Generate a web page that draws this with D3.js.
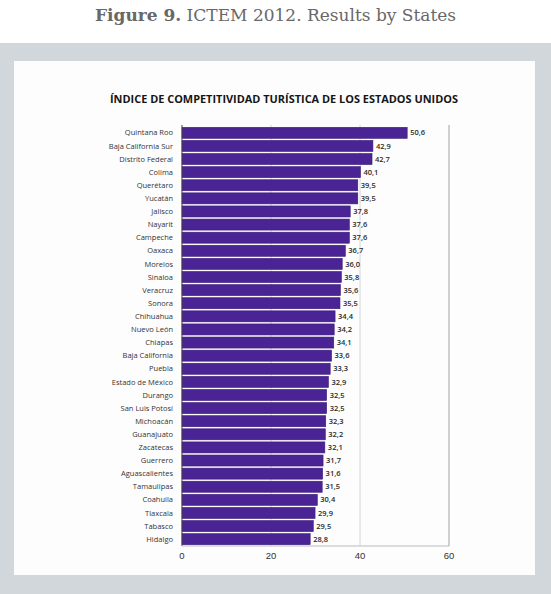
<!DOCTYPE html>
<html>
<head>
<meta charset="utf-8">
<script src="https://cdn.jsdelivr.net/npm/d3@7"></script>
<style>
  body { margin: 0; background: #ffffff; }
  svg { display: block; }
</style>
</head>
<body>
<div id="chart"></div>
<script>
// states, top to bottom
var states = ["Quintana Roo", "Baja California Sur", "Distrito Federal", "Colima", "Querétaro",
  "Yucatán", "Jalisco", "Nayarit", "Campeche", "Oaxaca", "Morelos", "Sinaloa", "Veracruz",
  "Sonora", "Chihuahua", "Nuevo León", "Chiapas", "Baja California", "Puebla",
  "Estado de México", "Durango", "San Luis Potosí", "Michoacán", "Guanajuato", "Zacatecas",
  "Guerrero", "Aguascalientes", "Tamaulipas", "Coahuila", "Tlaxcala", "Tabasco", "Hidalgo"];
var scores = [50.6, 42.9, 42.7, 40.1, 39.5, 39.5, 37.8, 37.6, 37.6, 36.7, 36.0, 35.8, 35.6,
  35.5, 34.4, 34.2, 34.1, 33.6, 33.3, 32.9, 32.5, 32.5, 32.3, 32.2, 32.1, 31.7, 31.6, 31.5,
  30.4, 29.9, 29.5, 28.8];
var xTicks = [0, 20, 40, 60];

var width = 551, height = 594;

var svg = d3.select("#chart").append("svg")
  .attr("width", width)
  .attr("height", height);

// figure caption
var cap = svg.append("text")
  .attr("x", width / 2)
  .attr("y", 21)
  .attr("text-anchor", "middle")
  .style("font-family", "'DejaVu Serif', Georgia, serif")
  .style("font-size", "17px")
  .style("fill", "#686868");
cap.append("tspan").style("font-weight", "bold").text("Figure 9.");
cap.append("tspan").text(" ICTEM 2012. Results by States");

// grey frame and white card
svg.append("rect")
  .attr("x", 0).attr("y", 43)
  .attr("width", width).attr("height", height - 43)
  .attr("fill", "#d2d7db");
svg.append("rect")
  .attr("x", 14).attr("y", 61)
  .attr("width", 521).attr("height", 514)
  .attr("fill", "#fdfdfd");

svg.append("text")
  .attr("x", 284)
  .attr("y", 103)
  .attr("text-anchor", "middle")
  .attr("textLength", 348)
  .attr("lengthAdjust", "spacingAndGlyphs")
  .style("font-family", "'Open Sans', sans-serif")
  .style("font-weight", "bold")
  .style("font-size", "11px")
  .style("fill", "#151515")
  .text("ÍNDICE DE COMPETITIVIDAD TURÍSTICA DE LOS ESTADOS UNIDOS");

var x = d3.scaleLinear().domain([0, 60]).range([182, 449]);
var y = d3.scaleBand().domain(states).range([126, 546]).paddingInner(0.16).paddingOuter(0.1);

var plotTop = 125, plotBottom = 546;

// gridlines
svg.append("g").selectAll("line")
  .data(xTicks.slice(1))
  .enter().append("line")
  .attr("x1", function(d) { return x(d); })
  .attr("x2", function(d) { return x(d); })
  .attr("y1", plotTop)
  .attr("y2", plotBottom)
  .attr("stroke", function(d) { return d == 60 ? "#b8b8b8" : "#d6d6d6"; })
  .attr("stroke-width", function(d) { return d == 60 ? 1.3 : 1; });

// bars
svg.append("g").selectAll("rect")
  .data(states)
  .enter().append("rect")
  .attr("x", x(0))
  .attr("y", function(d) { return y(d); })
  .attr("width", function(d, i) { return x(scores[i]) - x(0); })
  .attr("height", y.bandwidth())
  .attr("fill", "#4a2494")
  .attr("stroke", "#3a1b78")
  .attr("stroke-width", 0.6);

// value labels
svg.append("g").selectAll("text")
  .data(states)
  .enter().append("text")
  .attr("x", function(d, i) { return x(scores[i]) + 3; })
  .attr("y", function(d) { return y(d) + y.bandwidth() / 2; })
  .attr("dy", "0.35em")
  .style("font-family", "'Open Sans', sans-serif")
  .style("font-size", "7.5px")
  .style("font-weight", "600")
  .style("fill", "#2a2a2a")
  .text(function(d, i) { return scores[i].toFixed(1).replace(".", ","); });

// state labels
svg.append("g").selectAll("text")
  .data(states)
  .enter().append("text")
  .attr("x", 173)
  .attr("y", function(d) { return y(d) + y.bandwidth() / 2; })
  .attr("dy", "0.35em")
  .attr("text-anchor", "end")
  .style("font-family", "'Open Sans', sans-serif")
  .style("font-size", "7.5px")
  .style("fill", "#333")
  .text(function(d) { return d; });

// axes lines
svg.append("line")
  .attr("x1", x(0)).attr("x2", x(0))
  .attr("y1", plotTop).attr("y2", plotBottom)
  .attr("stroke", "#444").attr("stroke-width", 1);
svg.append("line")
  .attr("x1", x(0)).attr("x2", x(60))
  .attr("y1", plotBottom).attr("y2", plotBottom)
  .attr("stroke", "#bbb").attr("stroke-width", 1);

// x tick labels
svg.append("g").selectAll("text")
  .data(xTicks)
  .enter().append("text")
  .attr("x", function(d) { return x(d); })
  .attr("y", 559)
  .attr("text-anchor", "middle")
  .style("font-family", "'Liberation Sans', Arial, sans-serif")
  .style("font-size", "9.5px")
  .style("fill", "#333")
  .text(function(d) { return d; });
</script>
</body>
</html>
